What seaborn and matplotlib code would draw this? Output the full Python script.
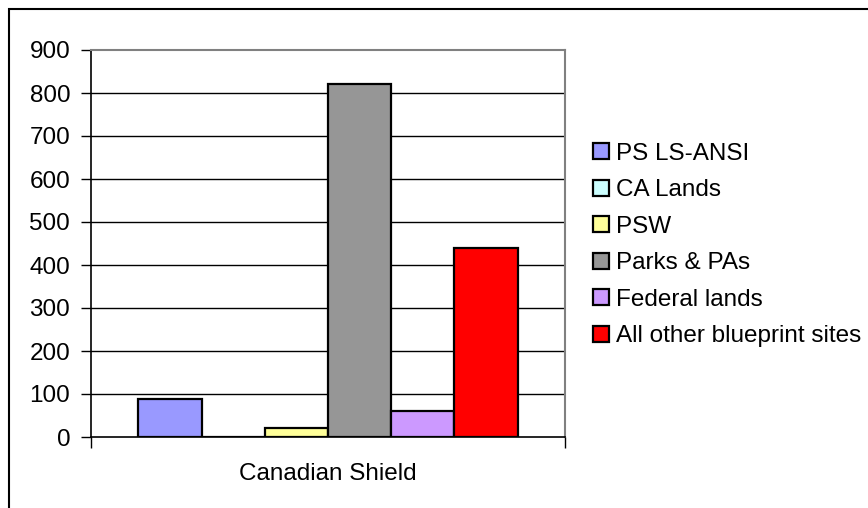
import matplotlib
matplotlib.use("Agg")
import matplotlib.pyplot as plt
from matplotlib.patches import Rectangle
import seaborn as sns
import pandas as pd

# Area by site type in the Canadian Shield region
regions = ["Canadian Shield"]
series = ["PS LS-ANSI", "CA Lands", "PSW", "Parks & PAs",
          "Federal lands", "All other blueprint sites"]
values = [89, 1, 22, 821, 60, 439]
colors = ["#9999FF", "#CCFFFF", "#FFFF99", "#969696", "#CC99FF", "#FF0000"]
y_ticks = [0, 100, 200, 300, 400, 500, 600, 700, 800, 900]

df = pd.DataFrame({
    "region": regions * len(series),
    "series": series,
    "value": values,
})

sns.set_theme(style="white")
plt.rcParams["font.family"] = ["Liberation Sans", "DejaVu Sans"]
plt.rcParams["text.color"] = "black"
FS = 17.5

W, H = 868, 508
fig = plt.figure(figsize=(W / 100, H / 100), dpi=100)
ax = fig.add_axes([91 / W, 1 - 437 / H, (565 - 91) / W, (437 - 50) / H])

# gridlines behind bars
ax.set_axisbelow(True)
for t in y_ticks[1:-1]:
    ax.axhline(t, color="black", lw=1.0, zorder=0)

sns.barplot(data=df, x="region", y="value", hue="series", hue_order=series,
            palette=colors, saturation=1, edgecolor="black", linewidth=1.6,
            gap=0, width=0.8, ax=ax, legend=True)

ax.set_xlim(-0.5, 0.5)
ax.set_ylim(0, 900)
ax.set_yticks(y_ticks)
ax.set_yticklabels([str(t) for t in y_ticks], fontsize=FS, color="black")
ax.tick_params(axis="y", direction="out", length=7, width=1, pad=8,
               left=True, color="black", labelcolor="black")

# category axis: boundary ticks, label centered
ax.set_xticks([-0.5, 0.5])
ax.set_xticklabels(["", ""])
ax.set_xticks([0], minor=True)
ax.set_xticklabels(regions, minor=True, fontsize=FS, color="black")
ax.tick_params(axis="x", which="major", direction="out", length=8, width=1,
               bottom=True, color="black")
ax.tick_params(axis="x", which="minor", length=0, pad=19, labelcolor="black")
ax.set_xlabel("")
ax.set_ylabel("")

for side in ["left", "bottom"]:
    ax.spines[side].set_color("black")
    ax.spines[side].set_linewidth(1.2)
for side in ["top", "right"]:
    ax.spines[side].set_visible(True)
    ax.spines[side].set_color("#808080")
    ax.spines[side].set_linewidth(1.5)

leg = ax.legend(loc="center left", bbox_to_anchor=(593 / W, 1 - 245 / H),
                bbox_transform=fig.transFigure, frameon=False, fontsize=FS,
                handlelength=0.64, handleheight=0.64, handletextpad=0.3,
                labelspacing=0.6, borderpad=0, borderaxespad=0)
for txt in leg.get_texts():
    txt.set_color("black")
for h in leg.legend_handles:
    h.set_edgecolor("black")
    h.set_linewidth(1.6)

# chart border (right and bottom edges lie outside the canvas)
fig.patches.append(Rectangle((9 / W, -0.05), 1.0, 1 - 9.5 / H + 0.05,
                             transform=fig.transFigure, fill=False,
                             edgecolor="black", lw=1.5))

fig.savefig("out.png", dpi=100)
